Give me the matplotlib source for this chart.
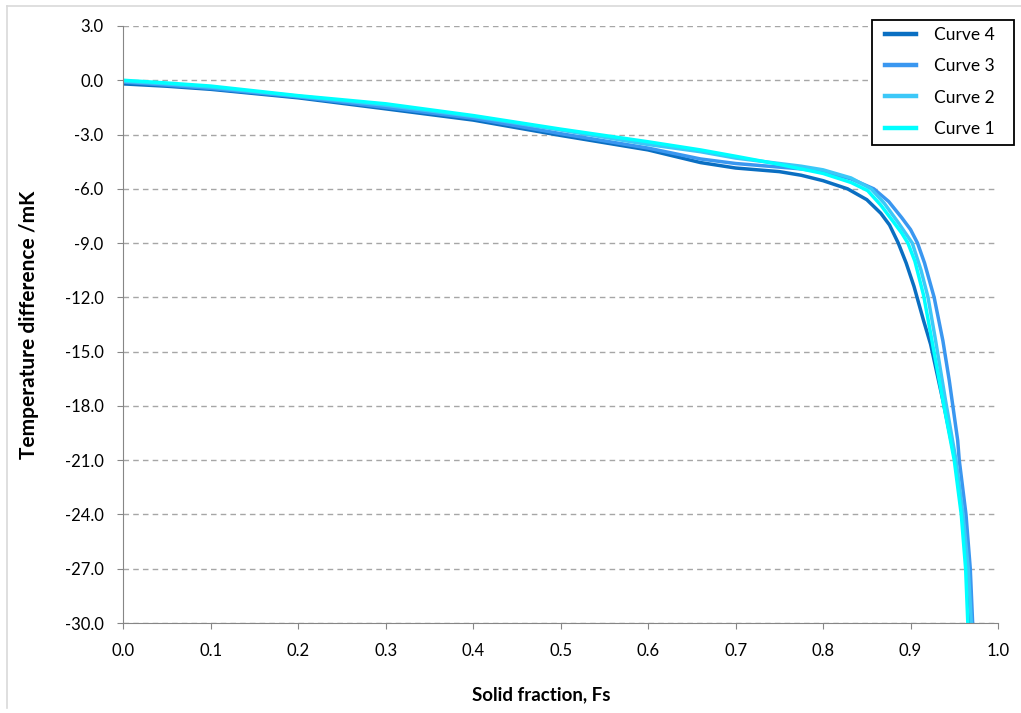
import matplotlib.pyplot as plt
from matplotlib.lines import Line2D
from matplotlib.patches import Rectangle
import numpy as np

# solid fraction / temperature difference (mK) for each curve
fs_1 = [0.0, 0.05, 0.1, 0.2, 0.3, 0.4, 0.5, 0.6, 0.66, 0.7, 0.75, 0.775, 0.8,
        0.832, 0.851, 0.866, 0.88, 0.89, 0.897, 0.905, 0.915, 0.923, 0.937,
        0.950, 0.958, 0.963, 0.9655, 0.966]
dt_1 = [0.0, -0.15, -0.32, -0.85, -1.3, -1.95, -2.7, -3.4, -3.85, -4.2, -4.65,
        -4.9, -5.15, -5.65, -6.1, -6.9, -7.8, -8.45, -9.0, -10.0, -11.9, -14.0,
        -17.7, -21.0, -24.0, -27.0, -30.0, -30.5]

fs_2 = [0.0, 0.05, 0.1, 0.2, 0.3, 0.4, 0.5, 0.6, 0.66, 0.7, 0.75, 0.775, 0.8,
        0.832, 0.855, 0.87, 0.885, 0.902, 0.912, 0.92, 0.928, 0.94, 0.952, 0.96,
        0.966, 0.9695, 0.970]
dt_2 = [-0.05, -0.2, -0.38, -0.88, -1.38, -2.0, -2.75, -3.55, -3.95, -4.3, -4.6,
        -4.75, -4.95, -5.4, -6.0, -6.8, -7.8, -9.0, -10.5, -12.0, -14.2, -17.7,
        -21.0, -24.0, -27.0, -30.0, -30.5]

fs_3 = [0.0, 0.05, 0.1, 0.2, 0.3, 0.4, 0.5, 0.6, 0.66, 0.7, 0.75, 0.775, 0.8,
        0.832, 0.858, 0.875, 0.89, 0.9, 0.908, 0.916, 0.927, 0.937, 0.9443,
        0.9539, 0.9557, 0.9634, 0.9683, 0.971, 0.9715]
dt_3 = [-0.1, -0.27, -0.45, -0.92, -1.5, -2.1, -2.95, -3.75, -4.35, -4.6, -4.8,
        -4.9, -5.05, -5.45, -6.0, -6.7, -7.6, -8.25, -9.0, -10.1, -12.0, -14.4,
        -16.6, -19.9, -21.0, -24.0, -27.0, -30.0, -30.5]

fs_4 = [0.0, 0.05, 0.1, 0.2, 0.3, 0.4, 0.5, 0.6, 0.66, 0.7, 0.75, 0.775, 0.8,
        0.828, 0.85, 0.866, 0.876, 0.886, 0.895, 0.904, 0.915, 0.923, 0.937,
        0.951, 0.959, 0.965, 0.968, 0.969]
dt_4 = [-0.2, -0.33, -0.5, -0.97, -1.58, -2.2, -3.05, -3.85, -4.55, -4.85, -5.05,
        -5.25, -5.55, -6.0, -6.6, -7.35, -8.0, -9.0, -10.1, -11.4, -13.3, -14.6,
        -17.7, -21.0, -24.0, -27.0, -30.0, -30.5]

curves = [("Curve 4", fs_4, dt_4, "#0a6fc2"),
          ("Curve 3", fs_3, dt_3, "#3a97f0"),
          ("Curve 2", fs_2, dt_2, "#3cc8f8"),
          ("Curve 1", fs_1, dt_1, "#00ffff")]

x_ticks = np.arange(0, 1.01, 0.1)
y_ticks = np.arange(-30, 3.1, 3)

plt.rcParams['font.family'] = ['Lato', 'DejaVu Sans']

W, H = 1021, 713
fig = plt.figure(figsize=(W / 100, H / 100), dpi=100)
ax = fig.add_axes([123.3 / W, 1 - 623 / H, (998 - 123.3) / W, (623 - 26) / H])

# thin frame round the chart area
fig.add_artist(Line2D([7 / W, 7 / W], [1 - 708 / H, 1 - 6 / H],
                      color="#d9d9d9", lw=1.2, transform=fig.transFigure))
fig.add_artist(Line2D([7 / W, 1.0], [1 - 6 / H, 1 - 6 / H],
                      color="#d9d9d9", lw=1.2, transform=fig.transFigure))

for name, xs, ys, col in curves:
    ax.plot(xs, ys, color=col, lw=2.5, label=name, solid_joinstyle="round")

ax.set_xlim(0, 1.0)
ax.set_ylim(-30, 3)
ax.set_xticks(x_ticks)
ax.set_yticks(y_ticks)
ax.set_xticklabels(["%.1f" % v for v in x_ticks])
ax.set_yticklabels(["%.1f" % v for v in y_ticks])
ax.yaxis.grid(True, linestyle=(0, (4, 3)), color="#a6a6a6", lw=1.0)
ax.set_axisbelow(True)
for s in ["top", "right"]:
    ax.spines[s].set_visible(False)
for s in ["left", "bottom"]:
    ax.spines[s].set_color("#868686")
ax.tick_params(direction="out", length=4.3, color="#868686", labelsize=12, pad=10)

ax.set_xlabel("Solid fraction, Fs", fontsize=13.5, fontweight="bold")
ax.set_ylabel("Temperature difference /mK", fontsize=15, fontweight="bold")
ax.xaxis.set_label_coords((541 - 123.3) / 874.7, (623 - 686) / 597)
ax.yaxis.set_label_coords((39 - 123.3) / 874.7, 0.5)

# legend box, wider than the entries like the spreadsheet one
fig.add_artist(Rectangle((872 / W, 1 - 145 / H), 142 / W, 125 / H,
                         facecolor="white", edgecolor="black", lw=1.3,
                         transform=fig.transFigure, zorder=4))
handles, labels = ax.get_legend_handles_labels()
leg = fig.legend(handles, labels, loc="upper left",
                 bbox_to_anchor=(885 / W, 1 - 27 / H), fontsize=12.5,
                 frameon=False, handlelength=1.78, labelspacing=0.88,
                 borderpad=0, handletextpad=1.03, borderaxespad=0)
leg.set_zorder(5)
for line in leg.get_lines():
    line.set_linewidth(3.2)

fig.savefig("out.png", dpi=100)
